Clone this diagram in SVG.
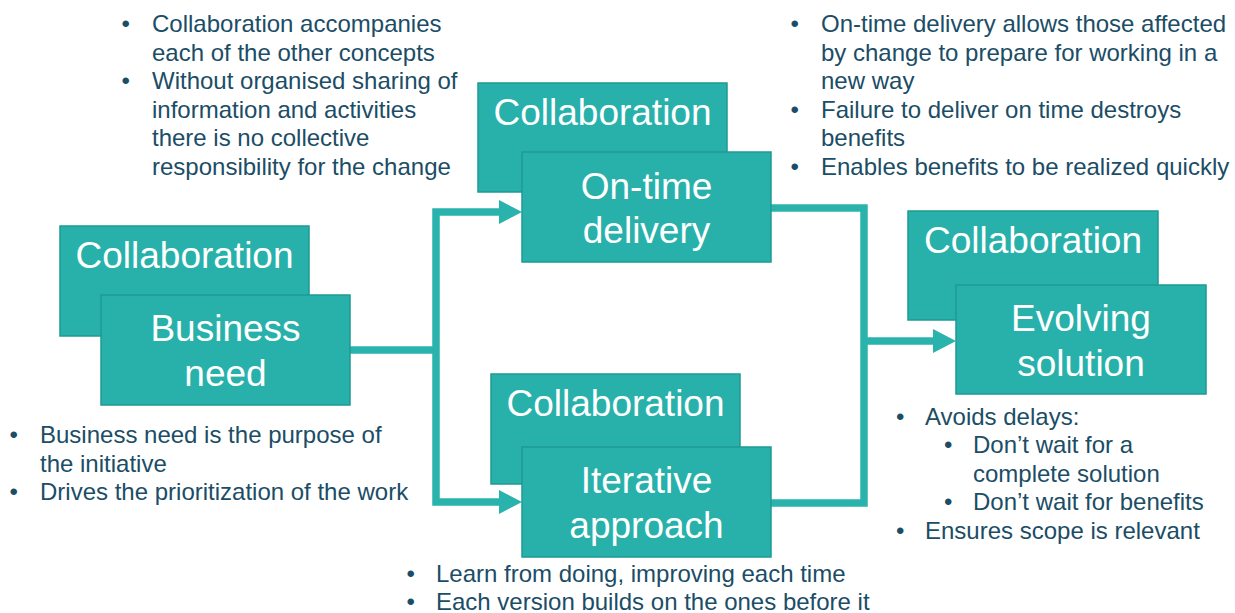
<svg xmlns="http://www.w3.org/2000/svg" width="1235" height="613" viewBox="0 0 1235 613">
  <style>
    .box { fill: #28B1AB; stroke: #1E9A94; stroke-width: 1.5; }
    .lbl { font-family: "Liberation Sans", Arial, sans-serif; font-size: 37px; fill: #FFFFFF; text-anchor: middle; }
    .note { font-family: "Liberation Sans", Arial, sans-serif; font-size: 24px; fill: #1B4D66; }
    .conn { fill: none; stroke: #2AB3AD; stroke-width: 7.5; stroke-linejoin: miter; stroke-linecap: butt; }
  </style>
  <defs>
    <marker id="arrow" markerUnits="userSpaceOnUse" viewBox="0 0 23 24" refX="3" refY="12" markerWidth="23" markerHeight="24" orient="auto">
      <path d="M0,0 L23,12 L0,24 Z" fill="#2AB3AD"/>
    </marker>
  </defs>

  <rect width="1235" height="613" fill="#FFFFFF"/>

  <!-- connectors -->
  <g id="connectors">
    <path class="conn" d="M350 350 H436"/>
    <path class="conn" d="M436 350 V212 H502" marker-end="url(#arrow)"/>
    <path class="conn" d="M436 350 V502 H502" marker-end="url(#arrow)"/>
    <path class="conn" d="M771 208 H864 V503 H771"/>
    <path class="conn" d="M864 341 H936" marker-end="url(#arrow)"/>
  </g>

  <!-- Business need -->
  <g id="business-need">
    <rect class="box" x="60" y="226" width="249" height="110"/>
    <text class="lbl" x="184.5" y="268">Collaboration</text>
    <rect class="box" x="101" y="295" width="249" height="110"/>
    <text class="lbl" x="225.5" y="341">Business</text>
    <text class="lbl" x="225.5" y="386">need</text>
  </g>

  <!-- On-time delivery -->
  <g id="on-time-delivery">
    <rect class="box" x="478" y="83" width="249" height="109"/>
    <text class="lbl" x="602.5" y="125">Collaboration</text>
    <rect class="box" x="522" y="152" width="249" height="110"/>
    <text class="lbl" x="646.5" y="199">On-time</text>
    <text class="lbl" x="646.5" y="243">delivery</text>
  </g>

  <!-- Iterative approach -->
  <g id="iterative-approach">
    <rect class="box" x="491" y="374" width="249" height="110"/>
    <text class="lbl" x="615.5" y="416">Collaboration</text>
    <rect class="box" x="522" y="447" width="249" height="110"/>
    <text class="lbl" x="646.5" y="493">Iterative</text>
    <text class="lbl" x="646.5" y="538">approach</text>
  </g>

  <!-- Evolving solution -->
  <g id="evolving-solution">
    <rect class="box" x="908" y="211" width="250" height="109"/>
    <text class="lbl" x="1033" y="253">Collaboration</text>
    <rect class="box" x="956" y="285" width="250" height="109"/>
    <text class="lbl" x="1081" y="331">Evolving</text>
    <text class="lbl" x="1081" y="376">solution</text>
  </g>

  <!-- notes: collaboration -->
  <g id="note-collaboration" class="note">
    <text x="121.5" y="32">•</text><text x="152" y="32">Collaboration accompanies</text>
    <text x="152" y="60.5">each of the other concepts</text>
    <text x="121.5" y="89">•</text><text x="152" y="89">Without organised sharing of</text>
    <text x="152" y="117.5">information and activities</text>
    <text x="152" y="146">there is no collective</text>
    <text x="152" y="174.5">responsibility for the change</text>
  </g>

  <!-- notes: on-time delivery -->
  <g id="note-on-time" class="note">
    <text x="790.5" y="32">•</text><text x="821" y="32">On-time delivery allows those affected</text>
    <text x="821" y="60.5">by change to prepare for working in a</text>
    <text x="821" y="89">new way</text>
    <text x="790.5" y="117.5">•</text><text x="821" y="117.5">Failure to deliver on time destroys</text>
    <text x="821" y="146">benefits</text>
    <text x="790.5" y="174.5">•</text><text x="821" y="174.5">Enables benefits to be realized quickly</text>
  </g>

  <!-- notes: business need -->
  <g id="note-business" class="note">
    <text x="9.5" y="443">•</text><text x="40" y="443">Business need is the purpose of</text>
    <text x="40" y="471.5">the initiative</text>
    <text x="9.5" y="500">•</text><text x="40" y="500">Drives the prioritization of the work</text>
  </g>

  <!-- notes: iterative approach -->
  <g id="note-iterative" class="note">
    <text x="406.5" y="582">•</text><text x="436" y="582">Learn from doing, improving each time</text>
    <text x="406.5" y="610">•</text><text x="436" y="610">Each version builds on the ones before it</text>
  </g>

  <!-- notes: evolving solution -->
  <g id="note-evolving" class="note">
    <text x="896" y="424.5">•</text><text x="925" y="424.5">Avoids delays:</text>
    <text x="944" y="453">•</text><text x="973" y="453">Don’t wait for a</text>
    <text x="973" y="481.5">complete solution</text>
    <text x="944" y="510">•</text><text x="973" y="510">Don’t wait for benefits</text>
    <text x="896" y="538.5">•</text><text x="925" y="538.5">Ensures scope is relevant</text>
  </g>
</svg>
